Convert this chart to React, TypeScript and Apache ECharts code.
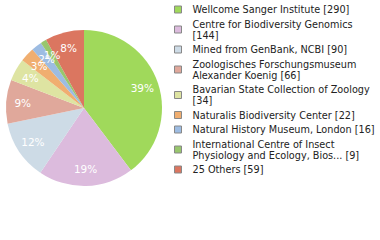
import React, { useEffect, useRef } from "react";
import * as echarts from "echarts";

const names = [
  "Wellcome Sanger Institute",
  "Centre for Biodiversity Genomics",
  "Mined from GenBank, NCBI",
  "Zoologisches Forschungsmuseum Alexander Koenig",
  "Bavarian State Collection of Zoology",
  "Naturalis Biodiversity Center",
  "Natural History Museum, London",
  "International Centre of Insect Physiology and Ecology, Bios...",
  "25 Others",
];
const values = [290, 144, 90, 66, 34, 22, 16, 9, 59];
const legendLabels = [
  "Wellcome Sanger Institute [290]",
  "Centre for Biodiversity Genomics\n[144]",
  "Mined from GenBank, NCBI [90]",
  "Zoologisches Forschungsmuseum\nAlexander Koenig [66]",
  "Bavarian State Collection of Zoology\n[34]",
  "Naturalis Biodiversity Center [22]",
  "Natural History Museum, London [16]",
  "International Centre of Insect\nPhysiology and Ecology, Bios... [9]",
  "25 Others [59]",
];
const colors = [
  "#a0d95b",
  "#dcbbdd",
  "#cddbe6",
  "#e0a89b",
  "#dee4a2",
  "#f0ae70",
  "#9dbce2",
  "#98c66d",
  "#db7660",
];

export default function App() {
  const ref = useRef<HTMLDivElement>(null);
  useEffect(() => {
    if (!ref.current) return;
    const chart = echarts.init(ref.current, null, { renderer: "svg" });
    const total = values.reduce((a, b) => a + b, 0);
    const data = names.map((n, i) => ({
      name: n,
      value: values[i],
      itemStyle: { color: colors[i] },
    }));
    const labelMap: Record<string, string> = {};
    names.forEach((n, i) => (labelMap[n] = legendLabels[i]));
    chart.setOption({
      animation: false,
      legend: {
        orient: "vertical",
        left: 174,
        top: 4,
        padding: 0,
        icon: "rect",
        itemWidth: 7,
        itemHeight: 7,
        itemGap: 3.5,
        selectedMode: false,
        data: names,
        formatter: (n: string) => labelMap[n],
        itemStyle: { borderColor: "#888", borderWidth: 1 },
        textStyle: {
          fontFamily: "DejaVu Sans",
          fontSize: 9.7,
          lineHeight: 11,
          color: "#222",
          padding: [0, 0, 0, 6],
        },
      },
      series: [
        {
          type: "pie",
          center: [84, 108],
          radius: 78,
          startAngle: 90,
          clockwise: true,
          silent: true,
          label: { show: false },
          labelLine: { show: false },
          data,
        },
        {
          type: "pie",
          center: [84, 108],
          radius: [39, 78],
          startAngle: 90,
          clockwise: true,
          silent: true,
          itemStyle: { color: "transparent" },
          labelLine: { show: false },
          labelLayout: { hideOverlap: false },
          label: {
            show: true,
            position: "inside",
            color: "#fff",
            fontFamily: "DejaVu Sans",
            fontSize: 10.5,
            formatter: (p: any) => Math.floor((p.value / total) * 100) + "%",
          },
          data: names.map((n, i) => ({ name: n, value: values[i] })),
        },
      ],
    });
    return () => chart.dispose();
  }, []);
  return (
    <div
      ref={ref}
      style={{ position: "absolute", left: 0, top: 0, width: 380, height: 240 }}
    />
  );
}
